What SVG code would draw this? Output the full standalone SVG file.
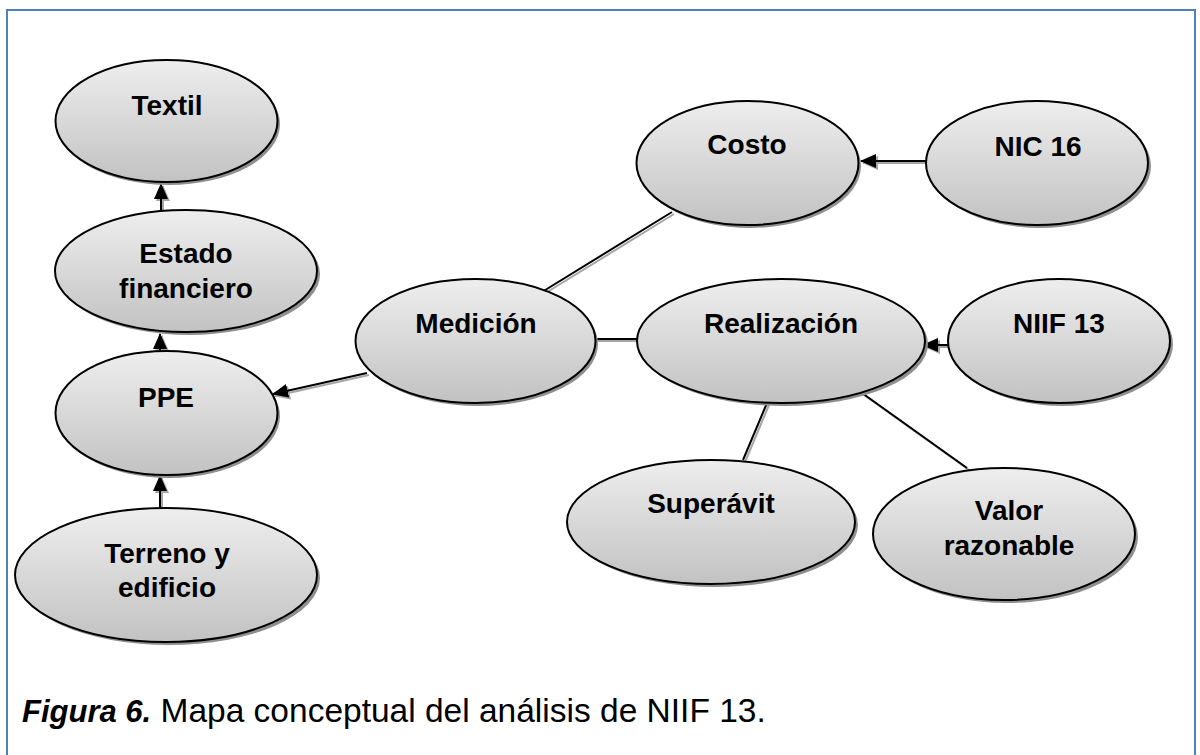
<svg xmlns="http://www.w3.org/2000/svg" width="1200" height="755" viewBox="0 0 1200 755">
  <defs>
    <linearGradient id="nodeFill" x1="0" y1="0" x2="0" y2="1">
      <stop offset="0" stop-color="#eeeeee"/>
      <stop offset="1" stop-color="#c2c2c2"/>
    </linearGradient>
    <marker id="arrow" viewBox="0 0 16 14" refX="15" refY="7" markerWidth="16" markerHeight="14" orient="auto" markerUnits="userSpaceOnUse">
      <path d="M0,0 L16,7 L0,14 z" fill="#000"/>
    </marker>
    <marker id="arrowShadow" viewBox="0 0 16 14" refX="15" refY="7" markerWidth="16" markerHeight="14" orient="auto" markerUnits="userSpaceOnUse">
      <path d="M0,0 L16,7 L0,14 z" fill="#a6a6a6"/>
    </marker>
    <style>
      .shadow { fill: #8f8f8f; }
      .node { fill: url(#nodeFill); stroke: #000; stroke-width: 2; }
      .label { font-family: "Liberation Sans", Arial, sans-serif; font-weight: bold; font-size: 28px; text-anchor: middle; fill: #000; }
      .line { stroke: #000; stroke-width: 2; fill: none; }
      .lineShadow { stroke: #a6a6a6; stroke-width: 2; fill: none; }
      .caption { font-family: "Liberation Sans", Arial, sans-serif; font-size: 33.5px; fill: #000; }
      .caption .lead { font-weight: bold; font-style: italic; font-size: 31px; }
    </style>
  </defs>

  <rect width="1200" height="755" fill="#fff"/>
  <!-- frame -->
  <rect x="7" y="10" width="1188" height="800" fill="none" stroke="#4f81bd" stroke-width="2"/>

  <!-- connectors -->
  <g id="connectors">
    <g transform="translate(2,2)">
      <path class="lineShadow" d="M161 212 L161 184" marker-end="url(#arrowShadow)"/>
      <path class="lineShadow" d="M160 352 L160 334" marker-end="url(#arrowShadow)"/>
      <path class="lineShadow" d="M160 509 L160 476" marker-end="url(#arrowShadow)"/>
      <path class="lineShadow" d="M367 373 L273 394" marker-end="url(#arrowShadow)"/>
      <path class="lineShadow" d="M542 292 L672 212"/>
      <path class="lineShadow" d="M595 339 L637 339"/>
      <path class="lineShadow" d="M926 161 L861 161" marker-end="url(#arrowShadow)"/>
      <path class="lineShadow" d="M948 345 L923 345" marker-end="url(#arrowShadow)"/>
      <path class="lineShadow" d="M767 403 L743 460"/>
      <path class="lineShadow" d="M855 388 L967 468"/>
    </g>
    <path class="line" d="M161 212 L161 184" marker-end="url(#arrow)"/>
    <path class="line" d="M160 352 L160 334" marker-end="url(#arrow)"/>
    <path class="line" d="M160 509 L160 476" marker-end="url(#arrow)"/>
    <path class="line" d="M367 373 L273 394" marker-end="url(#arrow)"/>
    <path class="line" d="M542 292 L672 212"/>
    <path class="line" d="M595 339 L637 339"/>
    <path class="line" d="M926 161 L861 161" marker-end="url(#arrow)"/>
    <path class="line" d="M948 345 L923 345" marker-end="url(#arrow)"/>
    <path class="line" d="M767 403 L743 460"/>
    <path class="line" d="M855 388 L967 468"/>
  </g>

  <!-- nodes -->
  <g id="textil">
    <ellipse class="shadow" cx="169" cy="124" rx="111" ry="61"/>
    <ellipse class="node" cx="166.5" cy="121" rx="111" ry="61"/>
    <text class="label" x="167" y="115">Textil</text>
  </g>
  <g id="estado-financiero">
    <ellipse class="shadow" cx="189" cy="274" rx="131" ry="61"/>
    <ellipse class="node" cx="186" cy="271" rx="131" ry="61"/>
    <text class="label" x="186" y="263">Estado</text>
    <text class="label" x="186" y="298">financiero</text>
  </g>
  <g id="ppe">
    <ellipse class="shadow" cx="169" cy="416" rx="111" ry="62"/>
    <ellipse class="node" cx="166.5" cy="413" rx="111" ry="62"/>
    <text class="label" x="166" y="407">PPE</text>
  </g>
  <g id="terreno-edificio">
    <ellipse class="shadow" cx="169" cy="578" rx="151" ry="67"/>
    <ellipse class="node" cx="166" cy="575" rx="151" ry="67"/>
    <text class="label" x="167" y="563">Terreno y</text>
    <text class="label" x="167" y="597">edificio</text>
  </g>
  <g id="medicion">
    <ellipse class="shadow" cx="478" cy="344" rx="120" ry="62"/>
    <ellipse class="node" cx="475.5" cy="341" rx="120" ry="62"/>
    <text class="label" x="476" y="333">Medición</text>
  </g>
  <g id="costo">
    <ellipse class="shadow" cx="750" cy="166" rx="111" ry="62"/>
    <ellipse class="node" cx="747.5" cy="163" rx="111" ry="62"/>
    <text class="label" x="747" y="154">Costo</text>
  </g>
  <g id="nic16">
    <ellipse class="shadow" cx="1040" cy="166" rx="111" ry="62"/>
    <ellipse class="node" cx="1037" cy="163" rx="111" ry="62"/>
    <text class="label" x="1038" y="156">NIC 16</text>
  </g>
  <g id="realizacion">
    <ellipse class="shadow" cx="784" cy="344" rx="144" ry="62"/>
    <ellipse class="node" cx="781" cy="341" rx="144" ry="62"/>
    <text class="label" x="781" y="333">Realización</text>
  </g>
  <g id="niif13">
    <ellipse class="shadow" cx="1062" cy="344" rx="111" ry="62"/>
    <ellipse class="node" cx="1059" cy="341" rx="111" ry="62"/>
    <text class="label" x="1059" y="333">NIIF 13</text>
  </g>
  <g id="superavit">
    <ellipse class="shadow" cx="714" cy="525" rx="144" ry="62"/>
    <ellipse class="node" cx="711" cy="522" rx="144" ry="62"/>
    <text class="label" x="711" y="513">Superávit</text>
  </g>
  <g id="valor-razonable">
    <ellipse class="shadow" cx="1007" cy="537" rx="131" ry="66"/>
    <ellipse class="node" cx="1004" cy="534" rx="131" ry="66"/>
    <text class="label" x="1009" y="520">Valor</text>
    <text class="label" x="1009" y="555">razonable</text>
  </g>

  <!-- caption -->
  <text class="caption" x="22" y="722"><tspan class="lead">Figura 6.</tspan> Mapa conceptual del análisis de NIIF 13.</text>
</svg>
